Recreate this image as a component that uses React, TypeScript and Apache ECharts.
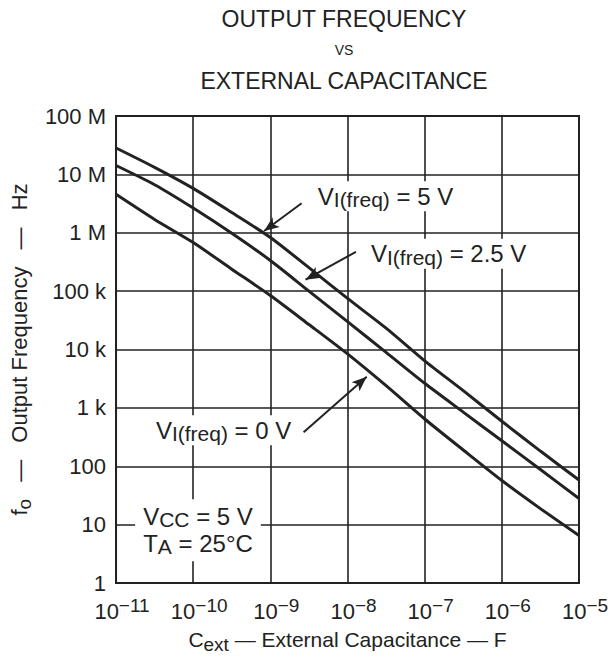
import React, { useEffect, useRef } from "react";
import * as echarts from "echarts";

// ---- data (half-decade steps) ----
const capacitance = [
  1e-11, 3.16e-11, 1e-10, 3.16e-10, 1e-9, 3.16e-9, 1e-8, 3.16e-8, 1e-7, 3.16e-7, 1e-6, 3.16e-6, 1e-5,
];
const freq5V = [2.83e7, 1.32e7, 5.75e6, 2.22e6, 8.3e5, 2.52e5, 7.5e4, 2.32e4, 6.4e3, 1.97e3, 590, 182, 58];
const freq2p5V = [1.42e7, 6.65e6, 2.65e6, 9.8e5, 3.35e5, 1.0e5, 3.0e4, 8.95e3, 2.64e3, 847, 273, 88, 28];
const freq0V = [4.55e6, 1.69e6, 6.8e5, 2.38e5, 8.4e4, 2.68e4, 8.4e3, 2.4e3, 645, 190, 57, 18.8, 6.5];
const yTickLabels = ["1", "10", "100", "1 k", "10 k", "100 k", "1 M", "10 M", "100 M"];
const curveLabelTexts = ["5 V", "2.5 V", "0 V"];

// annotation anchors in log10 data space [log C, log f]
const curveLabelAt = [
  [-7.508, 6.624],
  [-6.689, 5.639],
  [-9.606, 2.616],
];
const arrowFrom = [
  [-8.595, 6.505],
  [-7.891, 5.673],
  [-8.569, 2.582],
];
const arrowTo = [
  [-9.081, 6.03],
  [-8.544, 5.197],
  [-7.751, 3.533],
];
const condAt = [-9.938, 0.905];

const FONT = '"Liberation Sans", Arial, Helvetica, sans-serif';
const INK = "#222";

const p10 = (v: number) => Math.pow(10, v);

export default function App() {
  const ref = useRef<HTMLDivElement>(null);
  useEffect(() => {
    if (!ref.current) return;
    const chart = echarts.init(ref.current, undefined, { renderer: "svg" });
    const mkSeries = (name: string, vals: number[]) => ({
      name,
      type: "line",
      data: capacitance.map((c, i) => [c, vals[i]]),
      showSymbol: false,
      smooth: 0.25,
      lineStyle: { color: INK, width: 3 },
      z: 3,
    });
    const s1: any = mkSeries("5V", freq5V);
    s1.markLine = {
      silent: true,
      symbol: ["none", "arrow"],
      symbolSize: [9, 15],
      label: { show: false },
      lineStyle: { color: INK, width: 2, type: "solid" },
      data: arrowFrom.map((f, i) => [
        { coord: [p10(f[0]), p10(f[1])] },
        { coord: [p10(arrowTo[i][0]), p10(arrowTo[i][1])] },
      ]),
    };
    const option: any = {
      animation: false,
      backgroundColor: "#fff",
      grid: {
        left: 110,
        right: 36,
        top: 116,
        bottom: 72,
        show: true,
        borderColor: INK,
        borderWidth: 2,
      },
      xAxis: {
        type: "log",
        logBase: 10,
        min: 1e-11,
        max: 1e-5,
        axisLine: { show: true, lineStyle: { color: INK, width: 2 } },
        axisTick: { show: false },
        minorTick: { show: false },
        splitLine: { show: true, lineStyle: { color: INK, width: 1.6 } },
        axisLabel: {
          margin: 13,
          padding: [0, 0, 0, 12],
          formatter: (v: number) => `{b|10}{s|−${-Math.round(Math.log10(v))}}`,
          rich: {
            b: { fontSize: 22, fontFamily: FONT, color: INK, lineHeight: 30 },
            s: { fontSize: 19, fontFamily: FONT, color: INK, lineHeight: 16, verticalAlign: "top" },
          },
        },
        name: "{a|C}{s|ext}{a| — External Capacitance — F}",
        nameLocation: "middle",
        nameGap: 41,
        nameTextStyle: {
          rich: {
            a: { fontSize: 21, fontFamily: FONT, color: INK, lineHeight: 30 },
            s: { fontSize: 19, fontFamily: FONT, color: INK, lineHeight: 18, verticalAlign: "bottom" },
          },
        },
      },
      yAxis: {
        type: "log",
        logBase: 10,
        min: 1,
        max: 1e8,
        axisLine: { show: true, lineStyle: { color: INK, width: 2 } },
        axisTick: { show: false },
        minorTick: { show: false },
        splitLine: { show: true, lineStyle: { color: INK, width: 1.6 } },
        axisLabel: {
          margin: 10,
          fontSize: 22,
          fontFamily: FONT,
          color: INK,
          formatter: (v: number) => yTickLabels[Math.round(Math.log10(v))],
        },
        name: "{a|f}{s|o}{a| \u2002—\u2002 Output Frequency \u2002—\u2002 Hz}",
        nameLocation: "middle",
        nameRotate: 90,
        nameGap: 76,
        nameTextStyle: {
          rich: {
            a: { fontSize: 22, fontFamily: FONT, color: INK, lineHeight: 30 },
            s: { fontSize: 19, fontFamily: FONT, color: INK, lineHeight: 18, verticalAlign: "bottom" },
          },
        },
      },
      series: [s1, mkSeries("2.5V", freq2p5V), mkSeries("0V", freq0V)],
    };
    chart.setOption(option);

    const toPx = (a: number[]) => chart.convertToPixel({ gridIndex: 0 }, [p10(a[0]), p10(a[1])]) as number[];
    const richLbl = {
      v: { fontSize: 24, fontFamily: FONT, fill: INK, lineHeight: 28 },
      s: { fontSize: 21, fontFamily: FONT, fill: INK, lineHeight: 18, verticalAlign: "bottom" },
    };
    const graphics: any[] = [
      { text: "OUTPUT FREQUENCY", y: 19, size: 23 },
      { text: "VS", y: 50, size: 14 },
      { text: "EXTERNAL CAPACITANCE", y: 81, size: 23 },
    ].map((t) => ({
      type: "text",
      x: 344,
      y: t.y,
      style: {
        text: t.text,
        fontSize: t.size,
        fontFamily: FONT,
        fill: INK,
        align: "center",
        verticalAlign: "middle",
      },
    }));
    curveLabelAt.forEach((a, i) => {
      const p = toPx(a);
      graphics.push({
        type: "text",
        x: p[0],
        y: p[1],
        z: 100,
        style: {
          text: `{v|V}{s|I(freq)}{v| = ${curveLabelTexts[i]}}`,
          rich: richLbl,
          align: "center",
          verticalAlign: "middle",
          backgroundColor: "#fff",
          padding: [1, 6, 1, 6],
        },
      });
    });
    const cp = toPx(condAt);
    graphics.push({
      type: "text",
      x: cp[0],
      y: cp[1],
      z: 100,
      style: {
        text: "{v|V}{s|CC}{v| = 5 V}\n{v|T}{s|A}{v| = 25°C}",
        rich: {
          v: { fontSize: 24, fontFamily: FONT, fill: INK, lineHeight: 27 },
          s: { fontSize: 21, fontFamily: FONT, fill: INK, lineHeight: 17, verticalAlign: "bottom" },
        },
        align: "center",
        verticalAlign: "middle",
        backgroundColor: "#fff",
        padding: [4, 8, 4, 8],
      },
    });
    chart.setOption({ graphic: graphics });
    return () => chart.dispose();
  }, []);
  return (
    <div
      ref={ref}
      style={{ position: "fixed", left: 0, top: 0, width: 615, height: 659, background: "#fff" }}
    />
  );
}
